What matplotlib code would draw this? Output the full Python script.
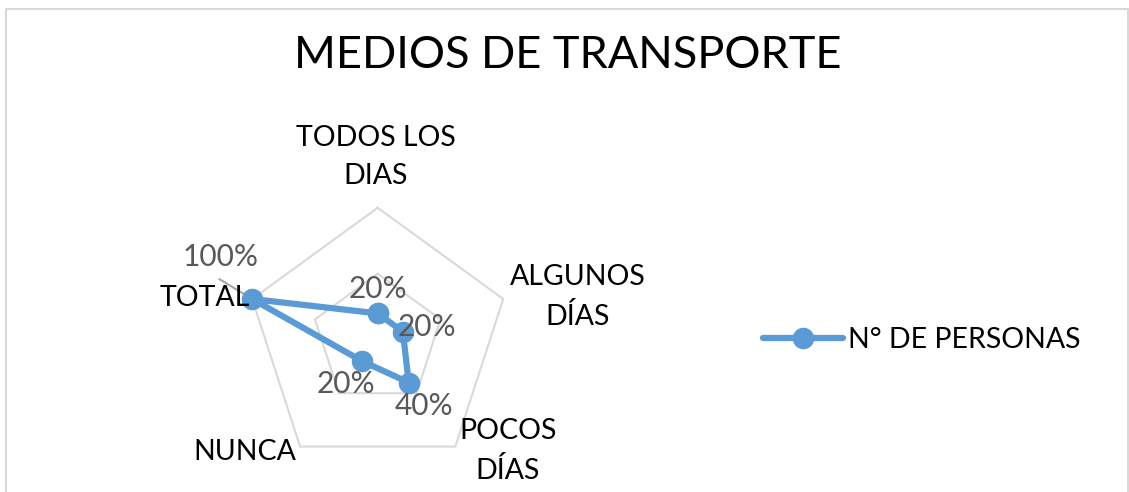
import numpy as np
import matplotlib
matplotlib.use("Agg")
import matplotlib.pyplot as plt
from matplotlib.patches import Rectangle
from matplotlib.lines import Line2D

categories = ["TODOS LOS\nDIAS", "ALGUNOS\nDÍAS", "POCOS\nDÍAS", "NUNCA", "TOTAL"]
values = [0.2, 0.2, 0.4, 0.2, 1.0]
value_labels = ["20%", "20%", "40%", "20%", "100%"]
series_name = "N° DE PERSONAS"
title = "MEDIOS DE TRANSPORTE"
grid_levels = [0.5, 1.0]

plt.rcParams['font.family'] = ['Lato', 'DejaVu Sans']

W, H = 1129, 492
fig = plt.figure(figsize=(W / 100, H / 100), dpi=100)

def fx(px):
    return px / W

def fy(py):
    return 1 - py / H

# chart frame
fig.patches.append(Rectangle((fx(6), fy(600)), fx(1128) - fx(6), fy(9) - fy(600),
                             transform=fig.transFigure, fill=False,
                             edgecolor="#d9d9d9", linewidth=1.5))

cx, cy, R = 377.7, 339.8, 132.0
ax = fig.add_axes([fx(cx - R), fy(cy + R), (2 * R) / W, (2 * R) / H], projection="polar")
ax.set_theta_zero_location("N")
ax.set_theta_direction(-1)
ax.set_ylim(0, 1)
ax.set_xticks([])
ax.set_yticks([])
ax.grid(False)
ax.spines["polar"].set_visible(False)
ax.patch.set_alpha(0)

n = len(categories)
angles = np.linspace(0, 2 * np.pi, n, endpoint=False)
ang_closed = np.concatenate([angles, angles[:1]])

for lvl in grid_levels:
    ax.plot(ang_closed, [lvl] * (n + 1), color="#d9d9d9", lw=1.5, zorder=1, clip_on=False)

color = "#5B9BD5"
vals_closed = values + values[:1]
ax.plot(ang_closed, vals_closed, color=color, lw=4.5, marker="o", markersize=14.5,
        solid_joinstyle="round", zorder=3, clip_on=False)

label_offsets = [(0, 24), (24, 5), (15, -23), (-16, -23), (-32, 42)]
for a, v, lab, off in zip(angles, values, value_labels, label_offsets):
    ax.annotate(lab, xy=(a, v), xytext=off, textcoords="offset pixels",
                ha="center", va="center", fontsize=21.5, color="#595959", zorder=4,
                annotation_clip=False)

# leader line for TOTAL label
ax.annotate("", xy=(angles[4], values[4]), xytext=(-33, 20), textcoords="offset pixels",
            arrowprops=dict(arrowstyle="-", color="#a6a6a6", lw=1.5, shrinkA=0, shrinkB=0),
            zorder=2, annotation_clip=False)

# category labels
cat_pos = [(376, 157, "center"), (578, 297, "center"), (508, 451, "center"),
           (245, 452, "center"), (250, 298, "right")]
for lab, (px, py, ha) in zip(categories, cat_pos):
    fig.text(fx(px), fy(py), lab, ha=ha, va="center", fontsize=20.5, color="black",
             linespacing=1.6, multialignment="center", zorder=1)

fig.text(fx(568), fy(56), title, ha="center", va="center", fontsize=32.5, color="black")

handle = Line2D([], [], color=color, lw=4.5, marker="o", markersize=14.5,
                solid_capstyle="round")
fig.legend([handle], [series_name], loc="center left",
           bbox_to_anchor=(fx(763), fy(340)), frameon=False, fontsize=20.5,
           handlelength=2.8, handletextpad=0.2, borderpad=0, borderaxespad=0)

fig.savefig("out.png", dpi=100)
